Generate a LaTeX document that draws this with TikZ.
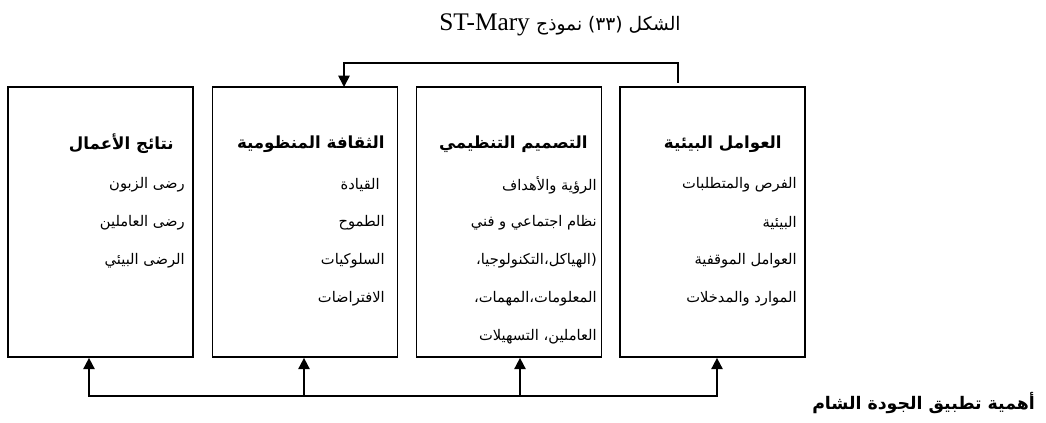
\documentclass[tikz,border=0pt]{standalone}
\usepackage{fontspec}
\setmainfont{Liberation Serif}
\newfontfamily\arabicfont[Script=Arabic]{DejaVu Sans}
\TeXXeTstate=1
\newcommand\rtltext[1]{\beginR#1\endR}
\usetikzlibrary{arrows.meta,calc}
\begin{document}
\begin{tikzpicture}[x=0.75pt,y=-0.75pt,
  box/.style={draw, line width=1.3pt, minimum width=138.75pt, minimum height=202.5pt, inner sep=0pt},
  head/.style={anchor=east, inner sep=0pt, font=\arabicfont\bfseries\fontsize{12.5}{14}\selectfont},
  item/.style={anchor=east, inner sep=0pt, font=\arabicfont\fontsize{11}{13}\selectfont},
  conn/.style={line width=1.3pt},
  tip/.tip={Triangle[width=8.5pt,length=8.5pt]},
  arr/.style={conn, -tip}]
\fill[white] (0,0) rectangle (1046,423);
\useasboundingbox (0,0) rectangle (1046,423);

% title
\node[inner sep=0pt, font=\fontsize{19}{21}\selectfont] (title) at (560,25)
  {\beginR{\arabicfont\fontsize{14}{16}\selectfont الشكل (٣٣) نموذج} \beginL ST-Mary\endL\endR};

% boxes
\node[box] (b1) at (100.5,222) {};
\node[box] (b2) at (305,222) {};
\node[box] (b3) at (509,222) {};
\node[box] (b4) at (712.5,222) {};

% headings
\node[head] (b1h) at (174,144) {\rtltext{نتائج الأعمال}};
\node[head] (b2h) at (385,144) {\rtltext{الثقافة المنظومية}};
\node[head] (b3h) at (588,144) {\rtltext{التصميم التنظيمي}};
\node[head] (b4h) at (782,144) {\rtltext{العوامل البيئية}};

% items
\foreach \t [count=\i] in {{رضى الزبون},{رضى العاملين},{الرضى البيئي}}
  \node[item] (b1i\i) at (185,147+38*\i) {\rtltext{\t}};
\node[item] (b2i1) at (380,185) {\rtltext{القيادة}};
\foreach \t [count=\i from 2] in {{الطموح},{السلوكيات},{الافتراضات}}
  \node[item] (b2i\i) at (385,147+38*\i) {\rtltext{\t}};
\foreach \t [count=\i] in {{الرؤية والأهداف},{نظام اجتماعي و فني},{(الهياكل،التكنولوجيا،},{المعلومات،المهمات،},{العاملين، التسهيلات}}
  \node[item] (b3i\i) at (597,147+38*\i) {\rtltext{\t}};
\foreach \t [count=\i] in {{الفرص والمتطلبات},{البيئية},{العوامل الموقفية},{الموارد والمدخلات}}
  \node[item] (b4i\i) at (797,147+38*\i) {\rtltext{\t}};

% top feedback connector
\coordinate (fb) at (678,83);
\coordinate (tc) at (678,63);
\coordinate (a2) at (344,87);
\draw[arr] (fb) -- (tc) -| (a2);

% bottom connectors
\coordinate (h1) at (89,396);
\coordinate (h2) at (304,396);
\coordinate (h3) at (520,396);
\coordinate (h4) at (717,396);
\draw[conn, tip-tip] (h1 |- b1.south) -- (h1) -- (h4) -- (h4 |- b4.south);
\draw[arr] (h2) -- (h2 |- b2.south);
\draw[arr] (h3) -- (h3 |- b3.south);

% caption
\node[anchor=west, inner sep=0pt, font=\arabicfont\bfseries\fontsize{13}{15}\selectfont] (cap) at (812,403) {\rtltext{أهمية تطبيق الجودة الشام}};
\end{tikzpicture}
\end{document}
